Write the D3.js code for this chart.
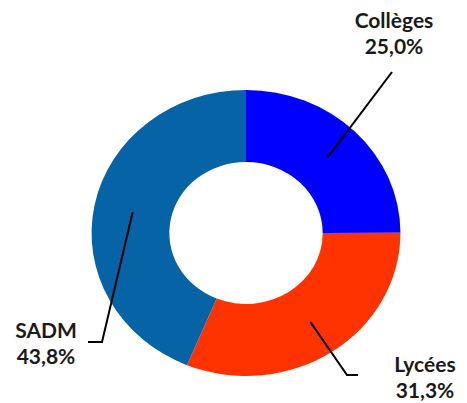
<!DOCTYPE html>
<html><head><meta charset="utf-8">
<script src="https://cdn.jsdelivr.net/npm/d3@7"></script>
<style>body{margin:0;background:#fff}svg{display:block}</style>
</head><body>
<svg id="c" width="467" height="403"></svg>
<script>
const categories = ["Collèges", "Lycées", "SADM"];
const values = [25.0, 31.3, 43.8];
const valueLabels = ["25,0%", "31,3%", "43,8%"];
const colors = ["#0000FF", "#FF3300", "#0563A6"];

// layout
const cx = 246, cy = 233, sx = 1.08;
const outerR = 143, innerR = 71;
const labelLayout = [
  {elbow: [392, 72], end: null, tx: 394, ty: 28},
  {elbow: [347, 375], end: [358, 375], tx: 425, ty: 372},
  {elbow: [102, 342], end: [88, 342], tx: 46, ty: 338}
];

const svg = d3.select("#c");
const pie = d3.pie().sort(null).value(d => d)(values);
const arc = d3.arc().innerRadius(innerR).outerRadius(outerR);
const g = svg.append("g").attr("transform", `translate(${cx},${cy}) scale(${sx},1)`);
g.selectAll("path").data(pie).join("path")
  .attr("d", arc).attr("fill", (d, i) => colors[i]);

const mid = d3.arc().innerRadius((innerR + outerR) / 2).outerRadius((innerR + outerR) / 2);
pie.forEach((d, i) => {
  const c = mid.centroid(d);
  const p0 = [cx + c[0] * sx, cy + c[1]];
  const L = labelLayout[i];
  const pts = [p0, L.elbow];
  if (L.end) pts.push(L.end);
  svg.append("path").attr("d", d3.line()(pts))
    .attr("fill", "none").attr("stroke", "#000").attr("stroke-width", 2);
  const t = svg.append("text").attr("text-anchor", "middle")
    .attr("font-family", "Lato, 'Open Sans', sans-serif").attr("font-weight", "bold")
    .attr("font-size", 21).attr("fill", "#1a1a1a");
  t.append("tspan").attr("x", L.tx).attr("y", L.ty).text(categories[i]);
  t.append("tspan").attr("x", L.tx).attr("y", L.ty + 26).text(valueLabels[i]);
});
</script>
</body></html>
